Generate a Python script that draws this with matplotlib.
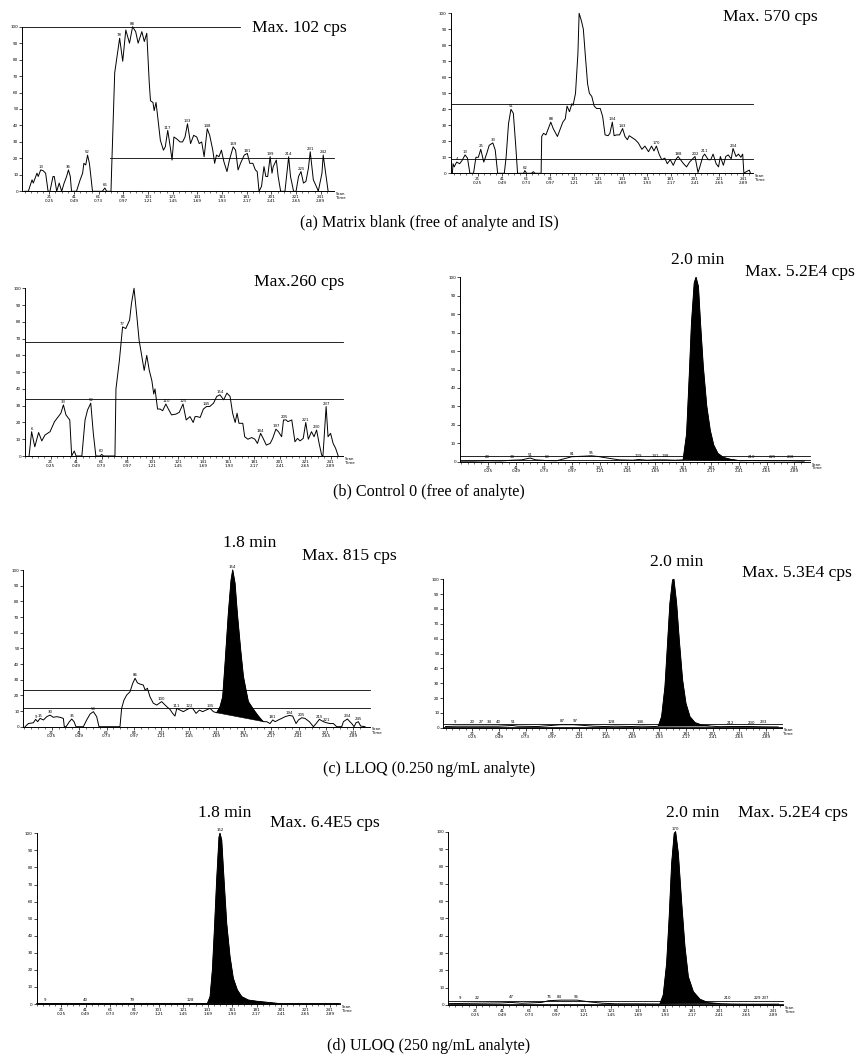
import matplotlib
matplotlib.use("Agg")
import matplotlib.pyplot as plt

plt.rcParams['font.family'] = ['DejaVu Sans']
SERIF = ['Liberation Serif', 'DejaVu Serif']

W, H = 858, 1061

# ---------------- data (scan number, relative intensity %) ----------------
scan_ticks = [21, 41, 61, 81, 101, 121, 141, 161, 181, 201, 221, 241]
time_ticks = ['0.25', '0.49', '0.73', '0.97', '1.21', '1.45', '1.69', '1.93',
              '2.17', '2.41', '2.65', '2.89']
y_ticks = [0, 10, 20, 30, 40, 50, 60, 70, 80, 90, 100]

captions = ["(a) Matrix blank (free of analyte and IS)",
            "(b) Control 0 (free of analyte)",
            "(c) LLOQ (0.250 ng/mL analyte)",
            "(d) ULOQ (250 ng/mL analyte)"]

max_texts = ["Max. 102 cps", "Max. 570 cps", "Max.260 cps", "Max. 5.2E4 cps",
             "Max. 815 cps", "Max. 5.3E4 cps", "Max. 6.4E5 cps", "Max. 5.2E4 cps"]
rt_texts = [None, None, None, "2.0 min", "1.8 min", "2.0 min", "1.8 min", "2.0 min"]

# (a) matrix blank - analyte channel
blank_analyte = [(1, 0), (4, 0), (7, 7), (8, 5), (11, 11), (12, 9), (14, 13), (16, 12.5), (18, 11),
                 (20, 0), (21.5, 0), (24, 9), (25, 9), (27, 0), (29, 5), (31, 0), (33, 5), (35, 9),
                 (36.5, 13), (38, 9), (39, 0), (43, 0), (46, 7), (48, 11), (49, 17), (50.5, 16),
                 (52, 22), (53.5, 17), (56, 0), (64, 0), (66, 2), (67.5, 0), (71, 0), (71.5, 13),
                 (74, 72), (78, 93), (80.5, 79), (83, 98), (86, 90), (88.5, 100), (91, 97), (93, 90),
                 (96, 97), (98, 91), (100, 96), (102, 66), (103, 55), (105, 54), (106, 49),
                 (107.5, 54), (109.5, 41), (111, 31), (113.5, 25), (115, 27), (117, 37), (119, 27),
                 (120.5, 19), (122, 33), (124, 32), (127, 30), (129, 30), (131, 33), (133, 41),
                 (135.5, 29), (138, 34), (140.5, 33), (142.5, 29), (144.5, 30), (146.5, 21),
                 (149, 38), (151, 34), (153.5, 25), (155, 17), (156.5, 22), (158.5, 21),
                 (160.5, 25), (162.5, 18), (165, 12), (167, 19), (170, 27), (172, 25), (174, 13),
                 (176, 17), (179, 22), (181.5, 23), (183.5, 17), (186, 17), (188, 13), (189.5, 12),
                 (191, 0), (193, 3), (195, 15), (196.5, 9), (198, 9), (200, 21), (201.5, 11),
                 (202.5, 15), (205, 19), (206.5, 9), (208.5, 0), (212, 0), (215, 21), (216.5, 9),
                 (219, 0), (221, 0), (223, 9), (225, 12), (227, 5), (229, 6), (231, 14),
                 (232.5, 24), (235, 7), (238, 2), (239, 0), (242, 11), (243, 22), (245, 11), (247, 0)]
blank_analyte_labels = [(13, 14, 13), (36, 36.5, 13), (52, 52, 22), (66, 66, 2), (78, 78, 93),
                        (88, 88.5, 100), (117, 117, 37), (133, 133, 41), (148, 149, 38),
                        (169, 170, 27), (181, 181.5, 23), (199, 200, 21), (214, 215, 21),
                        (225, 225, 12), (231, 232.5, 24), (242, 243, 22)]
blank_analyte_hlines = [(100, None, 175.6), (20, 70.5, None)]

# (a) matrix blank - IS channel
blank_is = [(0, 0), (0.5, 6), (1.5, 4), (3.5, 7), (6, 6), (8, 8), (10.5, 11.5), (12.5, 9.5), (14.5, 0),
            (17.5, 0), (19.5, 10), (21.5, 10), (23.5, 15), (26, 7), (28.5, 12.5), (30.5, 17.5),
            (33.5, 19), (35.5, 14.5), (37.5, 0), (43, 0), (44.5, 10), (46.5, 31), (48.5, 40),
            (50.5, 37.5), (52.5, 17), (54, 0), (59, 0), (60, 1.7), (61.5, 0), (65.5, 0), (67, 1),
            (68.5, 0), (73.5, 0), (74, 23), (75.5, 25), (77.5, 24), (79.5, 28), (81.5, 32),
            (83.5, 28), (87, 23), (89.5, 28), (91.5, 32), (93.5, 34), (95, 42), (97, 38.5),
            (99, 43.5), (100, 42.5), (102, 50), (104, 75), (105, 100), (107, 95), (108.5, 90),
            (110, 75), (112, 56), (113.5, 50), (115.5, 48), (117.5, 42), (119.5, 40.5),
            (122.5, 40.5), (124.5, 35.5), (126.5, 24), (129, 23.5), (130.5, 25), (132.5, 32),
            (134, 23.5), (136, 24), (138.5, 24), (141, 28), (143, 23), (145, 21), (146.5, 23.5),
            (148.5, 22.5), (151.5, 21), (154, 19), (157, 15), (159.5, 17), (162.5, 13.5),
            (165, 17), (167, 14), (169, 17), (171.5, 11.5), (173.5, 8.5), (176, 9.5), (178, 6),
            (180.5, 8.5), (183, 5), (185, 8.5), (187, 10.5), (189, 8.5), (191.5, 6), (194, 4),
            (196.5, 7), (199, 9), (201, 10.5), (203.5, 0.5), (205, 4), (207.5, 10.5), (209, 12),
            (212, 8.5), (214, 8.5), (216, 12), (218.5, 6), (220.5, 4), (222, 10.5), (224.5, 5),
            (226.5, 10.5), (228.5, 11.5), (231, 9), (232.5, 15.5), (235, 10.5), (237, 12),
            (239, 10), (240.5, 12), (241.5, 0), (243.5, 1), (246, 2), (247, 0)]
blank_is_labels = [(4, 4, 7), (13, 10.5, 11.5), (25, 23.5, 15), (33, 33.5, 19), (51, 48.5, 40),
                   (62, 60, 1.7), (88, 81.5, 32), (134, 132.5, 32), (143, 141, 28), (170, 169, 17),
                   (188, 187, 10.5), (202, 201, 10.5), (211, 209, 12), (234, 232.5, 15.5)]
blank_is_hlines = [(43, None, None), (9, None, None)]

# (b) control 0 - analyte channel
control_analyte = [(4, 0), (6, 14.5), (8.5, 5.5), (11.5, 14), (14, 9), (16.5, 12.5), (20.5, 14.5),
                   (24, 20.5), (27, 23.5), (29, 25.5), (31, 30.5), (33, 24.5), (36, 21.5),
                   (37.5, 0), (39.5, 3), (41, 0), (45.5, 0), (48, 21.5), (50, 27.5), (52.5, 31.5),
                   (54.5, 13.5), (56.5, 0), (60, 0), (61, 1), (62.5, 0), (71.5, 0), (72.3, 40),
                   (75, 57), (77.5, 77), (80, 76), (83, 81), (84.5, 91), (86.5, 100), (88.5, 85),
                   (90.5, 69), (92.5, 60), (94.5, 51), (96.5, 60), (98.5, 51), (100.5, 45),
                   (102, 37), (103, 40), (105, 28), (107, 28), (109, 27), (111.5, 31), (113.5, 28),
                   (116, 24.5), (119.5, 25), (122, 26), (125, 31), (127.5, 21.5), (130.5, 23.5),
                   (133, 20), (134.5, 23.5), (136, 23.5), (138.5, 23), (141, 28), (143.5, 29.5),
                   (146, 29.5), (149, 31.5), (151.5, 35.5), (154, 36.5), (157, 33.5), (159.5, 37.5),
                   (162, 35.5), (164, 25.5), (166, 20), (167.5, 25.5), (169, 19.5), (172, 19.5),
                   (173.5, 11.5), (176, 10), (179, 11), (181.5, 10), (183.5, 7.5), (186, 13.5),
                   (188, 10.5), (190.5, 6.5), (193.5, 7.5), (195.5, 10.5), (198, 16), (200, 14.5),
                   (202.5, 11.5), (204, 21.5), (206, 21.5), (207.5, 20.5), (210.5, 21.5),
                   (213, 8.5), (215, 10.5), (217, 9), (219.5, 10.5), (221.5, 20), (223.5, 10),
                   (226, 14.5), (228, 11.5), (230, 15.5), (232, 7.5), (234, 0.5), (235, 0),
                   (237.5, 29.5), (239, 11.5), (241, 13.5), (243, 7.5), (245, 4.5), (247, 0)]
control_analyte_labels = [(6, 6, 14.5), (33, 31, 30.5), (52, 52.5, 31.5), (60, 61, 1),
                          (77, 77.5, 77), (110, 111.5, 31), (125, 125, 31), (145, 143.5, 29.5),
                          (154, 154, 36.5), (184, 186, 13.5), (197, 198, 16), (205, 205, 21.5),
                          (221, 221.5, 20), (230, 230, 15.5), (237, 237.5, 29.5)]
control_analyte_hlines = [(68, None, None), (34, None, None)]

# (b) control 0 - IS channel
control_is = [(1, 0.3), (10, 0.3), (20, 0.5), (30, 0.4), (38, 0.8), (45, 1.0), (51, 2.0), (55, 1.0),
              (63, 0.6), (70, 0.5), (75, 1.5), (81, 2.7), (90, 3.0), (95, 3.2), (100, 2.8),
              (108, 1.8), (115, 1.0), (125, 0.8), (129, 1.2), (135, 0.8), (141, 1.0), (148, 1.0),
              (155, 0.8), (161, 1.0), (163.5, 15), (165.5, 48), (167, 75), (169, 97),
              (170.3, 100), (172, 95), (173.5, 75), (175.5, 51.5), (178, 30), (180.5, 17),
              (183, 9), (186, 4.5), (190, 2.3), (195, 1.3), (202, 0.5), (210, 0.6), (225, 0.5),
              (238, 0.5), (248, 0.3)]
control_is_peak = (161, 202)
control_is_labels = [(20, 20, 0.8), (38, 38, 1.2), (51, 51, 2), (63, 63, 0.8), (81, 81, 2.9),
                     (95, 95, 3.3), (129, 129, 1.5), (141, 141, 1.3), (148, 148, 1.3),
                     (210, 210, 0.9), (225, 225, 0.8), (238, 238, 0.8)]
control_is_hlines = [(3.2, None, None), (0.8, None, None)]

# (c) LLOQ - analyte channel
lloq_analyte = [(1.6, 0), (4, 2), (7.6, 2.5), (9.3, 4.7), (10.8, 3.2), (12.5, 5.3), (15, 4.3),
                (17.4, 6.4), (19.8, 7.4), (22.2, 6), (24.6, 6.4), (27.1, 6), (29.5, 5.3), (30.2, 0),
                (31.5, 0), (33.9, 3.2), (35.6, 4.9), (37.3, 3.2), (38.7, 0), (44.1, 0), (46.5, 4.3),
                (49, 8.1), (51.4, 9.6), (53.8, 6.4), (55.5, 0), (70.8, 0), (72, 11.7), (73.7, 17),
                (75.7, 20.2), (78.1, 22.3), (80.1, 27.7), (81.8, 30.9), (83.5, 28), (85.4, 27.2),
                (87.8, 26.6), (89.1, 23.4), (90.8, 24.5), (92.7, 19), (95.1, 15), (97.6, 13.8),
                (99.5, 15), (101.2, 16), (102.9, 14.5), (104.9, 12.8), (107.3, 11), (109.2, 8.5),
                (110.9, 6.8), (112.2, 11.7), (114.6, 10.6), (117, 9.6), (119, 10.6), (121.4, 11.7),
                (123.8, 11.7), (126.3, 8.5), (128.7, 10.6), (131.1, 9.6), (133.5, 10.6),
                (136.5, 11.7), (138.9, 9.6), (141.3, 8.9), (143.8, 12.8), (145.7, 19), (147.4, 40),
                (149.8, 72), (151.8, 93.6), (153, 100), (154.7, 91.5), (156.4, 72), (158.8, 49),
                (160.8, 32), (162.7, 23.4), (164.4, 16), (166.8, 12.8), (169.3, 9.6), (171.7, 6.8),
                (174.1, 4.3), (175.4, 3.2), (177.8, 3.2), (180.2, 2), (182.2, 4.3), (183.9, 3.2),
                (186.3, 4.3), (188.7, 5.3), (191.2, 6.4), (194.3, 7.2), (196.7, 6.8), (199.2, 2),
                (200.9, 4.3), (203.3, 5.7), (205.7, 5.3), (208.9, 3.2), (211.8, 0), (213.8, 2),
                (216.2, 4.7), (219.1, 3.2), (221.5, 2.5), (224, 2), (226.4, 2), (228.8, 0),
                (232.5, 0), (233.7, 3.2), (236.6, 4.9), (239.8, 2), (241.5, 0), (242.9, 2.5),
                (244.6, 3.2), (246.3, 0.4), (249.5, 0)]
lloq_analyte_peak = (141.3, 175.4)
lloq_analyte_labels = [(9, 9.3, 4.7), (15, 12.8, 5.3), (30, 19.8, 7.4), (35, 35.6, 4.9),
                       (54, 51.4, 9.6), (86, 81.8, 30.9), (100, 101.2, 16), (111, 112.2, 11.7),
                       (122, 121.4, 11.7), (135, 136.5, 11.7), (154, 153, 100), (181, 182.2, 4.3),
                       (194, 194.3, 7.2), (205, 203.3, 5.7), (215, 216.2, 4.7), (221, 221.5, 2.5),
                       (234, 236.6, 4.9), (245, 244.6, 3.2)]
lloq_analyte_hlines = [(23.4, None, None), (11.7, None, None)]

# (c) LLOQ - IS channel
lloq_is = [(1, 0.8), (9, 1.0), (20, 1.0), (30, 1.0), (40, 1.0), (51, 1.5), (55, 1.0), (70, 0.8),
           (80, 1.5), (87, 2.0), (97, 2.0), (105, 1.5), (112, 1.0), (120, 0.8), (128, 1.0),
           (140, 0.8), (148, 1.0), (158, 0.8), (160.3, 1), (162.8, 7.4), (165.3, 27.6),
           (167.1, 54.6), (169, 83.8), (171, 99.6), (172, 100), (174, 83.8), (176, 59),
           (178.5, 32), (181, 16.4), (184, 7.4), (187.8, 3.4), (192.8, 1.8), (199, 1.1),
           (206, 0.7), (215, 0.8), (230, 0.8), (240, 0.6), (250, 0.5)]
lloq_is_peak = (160.3, 199)
lloq_is_labels = [(9, 8, 1.6), (20, 21, 1.6), (27, 27.5, 1.6), (34, 34, 1.6), (40, 40.5, 1.6),
                  (51, 51.7, 2.0), (87, 88, 2.4), (97, 98, 2.4), (128, 125, 1.6), (146, 146.6, 1.6),
                  (212, 214, 1.2), (230, 230, 1.2), (233, 239, 1.8)]
lloq_is_hlines = [(2.2, None, None), (0.6, None, None)]

# (d) ULOQ - analyte channel
uloq_analyte = [(1, 0.3), (140.7, 0.3), (142.9, 4.3), (144.8, 20), (146.4, 43), (148.3, 72.7),
                (150.2, 97.7), (151, 100), (152.4, 96), (154.3, 72.7), (156.5, 47), (159.2, 27.7),
                (161.9, 15), (165.2, 8.2), (168.8, 4.3), (174.2, 2.3), (181, 1.6), (189.2, 1),
                (197.4, 0.4), (200, 0.2), (248, 0.2)]
uloq_analyte_peak = (140.7, 200)
uloq_analyte_labels = [(9, 8, 0.8), (40, 40.6, 0.8), (79, 79, 0.8), (128, 127, 0.8), (152, 151, 100)]
uloq_analyte_hlines = [(0.8, None, None)]

# (d) ULOQ - IS channel
uloq_is = [(1, 0.8), (20, 1), (40, 1.2), (47, 1.5), (55, 1), (70, 1.5), (75, 2.5), (84, 2.8),
           (96, 2.8), (105, 1.8), (115, 1.0), (125, 0.7), (140, 0.7), (155, 0.6), (157.2, 0.6),
           (159.7, 5.8), (162.2, 24), (164.1, 51), (165.9, 81.7), (167.8, 99), (168.8, 100),
           (170.8, 87.5), (173.3, 58.7), (175.7, 33.7), (178.2, 16.3), (181.9, 7.7),
           (186.8, 3.3), (193, 1.3), (201.6, 0.8), (210, 0.6), (220, 0.5), (245, 0.5)]
uloq_is_peak = (157.2, 201.6)
uloq_is_labels = [(9, 9.4, 2.5), (22, 22.5, 2.5), (47, 47, 2.8), (75, 75, 2.8), (84, 83, 3.0),
                  (96, 95, 3.0), (170, 168.8, 100), (210, 207, 2.5), (229, 229, 2.5), (237, 235, 2.5)]
uloq_is_hlines = [(2.5, None, None), (0.5, None, None)]

# ---------------- layout (pixel boxes: y-axis x, x-axis end x, y of 0, y of 100) ----------------
panels = [
    dict(trace=blank_analyte, labels=blank_analyte_labels, hl=blank_analyte_hlines, peak=None,
         box=(22.3, 334.3, 191.3, 26.7), xlim=(-0.9, 252.0)),
    dict(trace=blank_is, labels=blank_is_labels, hl=blank_is_hlines, peak=None,
         box=(450.7, 753.3, 173.3, 13.3), xlim=(-1.4, 249.3)),
    dict(trace=control_analyte, labels=control_analyte_labels, hl=control_analyte_hlines, peak=None,
         box=(25.0, 343.3, 456.0, 288.3), xlim=(0.8, 251.0)),
    dict(trace=control_is, labels=control_is_labels, hl=control_is_hlines, peak=control_is_peak,
         box=(460.0, 810.0, 461.7, 277.3), xlim=(0.6, 252.2)),
    dict(trace=lloq_analyte, labels=lloq_analyte_labels, hl=lloq_analyte_hlines, peak=lloq_analyte_peak,
         box=(23.3, 370.0, 726.7, 570.0), xlim=(0.3, 253.1)),
    dict(trace=lloq_is, labels=lloq_is_labels, hl=lloq_is_hlines, peak=lloq_is_peak,
         box=(443.3, 781.7, 727.7, 579.3), xlim=(-0.7, 252.7)),
    dict(trace=uloq_analyte, labels=uloq_analyte_labels, hl=uloq_analyte_hlines, peak=uloq_analyte_peak,
         box=(36.7, 340.0, 1004.0, 833.3), xlim=(1.1, 249.2)),
    dict(trace=uloq_is, labels=uloq_is_labels, hl=uloq_is_hlines, peak=uloq_is_peak,
         box=(448.3, 783.3, 1005.0, 831.7), xlim=(0.8, 248.4)),
]
max_pos = [(252, 28), (722.7, 17), (254, 282), (745, 272), (302, 556), (742, 573), (270, 823), (738, 813)]
rt_pos = [None, None, None, (698, 260), (250, 543), (677, 562), (225, 813), (693, 813)]
caption_pos = [(429, 223), (429, 492), (429, 769), (429, 1046)]

fig = plt.figure(figsize=(W / 100, H / 100), dpi=100)
fig.patch.set_facecolor('white')

def fx(px):
    return px / W

def fy(py):
    return 1 - py / H

TICK_FS = 3.0
for i, p in enumerate(panels):
    xl, xr, y0, y100 = p['box']
    ax = fig.add_axes([fx(xl), fy(y0), (xr - xl) / W, (y0 - y100) / H])
    ax.set_xlim(*p['xlim'])
    ax.set_ylim(0, 100)
    xs = [q[0] for q in p['trace']]
    ys = [q[1] for q in p['trace']]
    if p['peak'] is not None:
        lo, hi = p['peak']
        px_ = [x for x, y in p['trace'] if lo <= x <= hi]
        py_ = [y for x, y in p['trace'] if lo <= x <= hi]
        ax.fill(px_, py_, color='black', lw=0.4, clip_on=False)
    ax.plot(xs, ys, color='black', lw=0.7, clip_on=False)
    for v, a, b in p['hl']:
        a = p['xlim'][0] if a is None else a
        b = p['xlim'][1] if b is None else b
        ax.plot([a, b], [v, v], color='black', lw=0.6, clip_on=False)
    for lab, s, v in p['labels']:
        ax.annotate(str(lab), (s, v), xytext=(0, 0.6), textcoords='offset points',
                    ha='center', va='bottom', fontsize=2.8, annotation_clip=False)
    for side in ('top', 'right'):
        ax.spines[side].set_visible(False)
    for side in ('left', 'bottom'):
        ax.spines[side].set_linewidth(0.7)
    ax.set_yticks(y_ticks)
    ax.set_yticklabels([str(t) for t in y_ticks])
    ax.set_xticks(scan_ticks)
    ax.set_xticklabels([f"{s}\n{t}" for s, t in zip(scan_ticks, time_ticks)], linespacing=0.9)
    ax.set_xticks(list(range(1, 250, 5)), minor=True)
    ax.tick_params(axis='both', which='major', direction='out', length=2, width=0.5,
                   labelsize=TICK_FS, pad=0.8)
    ax.tick_params(axis='x', which='minor', direction='out', length=1.2, width=0.4)
    ax.patch.set_alpha(0)
    ax.text(1.005, -0.005, "Scan\nTime", transform=ax.transAxes, fontsize=2.8,
            ha='left', va='top', linespacing=0.9)
    mx, my = max_pos[i]
    fig.text(fx(mx), fy(my), max_texts[i], family=SERIF, fontsize=12.6, ha='left', va='center')
    if rt_texts[i] is not None:
        rx, ry = rt_pos[i]
        fig.text(fx(rx), fy(ry), rt_texts[i], family=SERIF, fontsize=12.6, ha='center', va='center')

for cap, (cx, cy) in zip(captions, caption_pos):
    fig.text(fx(cx), fy(cy), cap, family=SERIF, fontsize=11.6, ha='center', va='center')

fig.savefig('out.png', dpi=100, facecolor='white')
